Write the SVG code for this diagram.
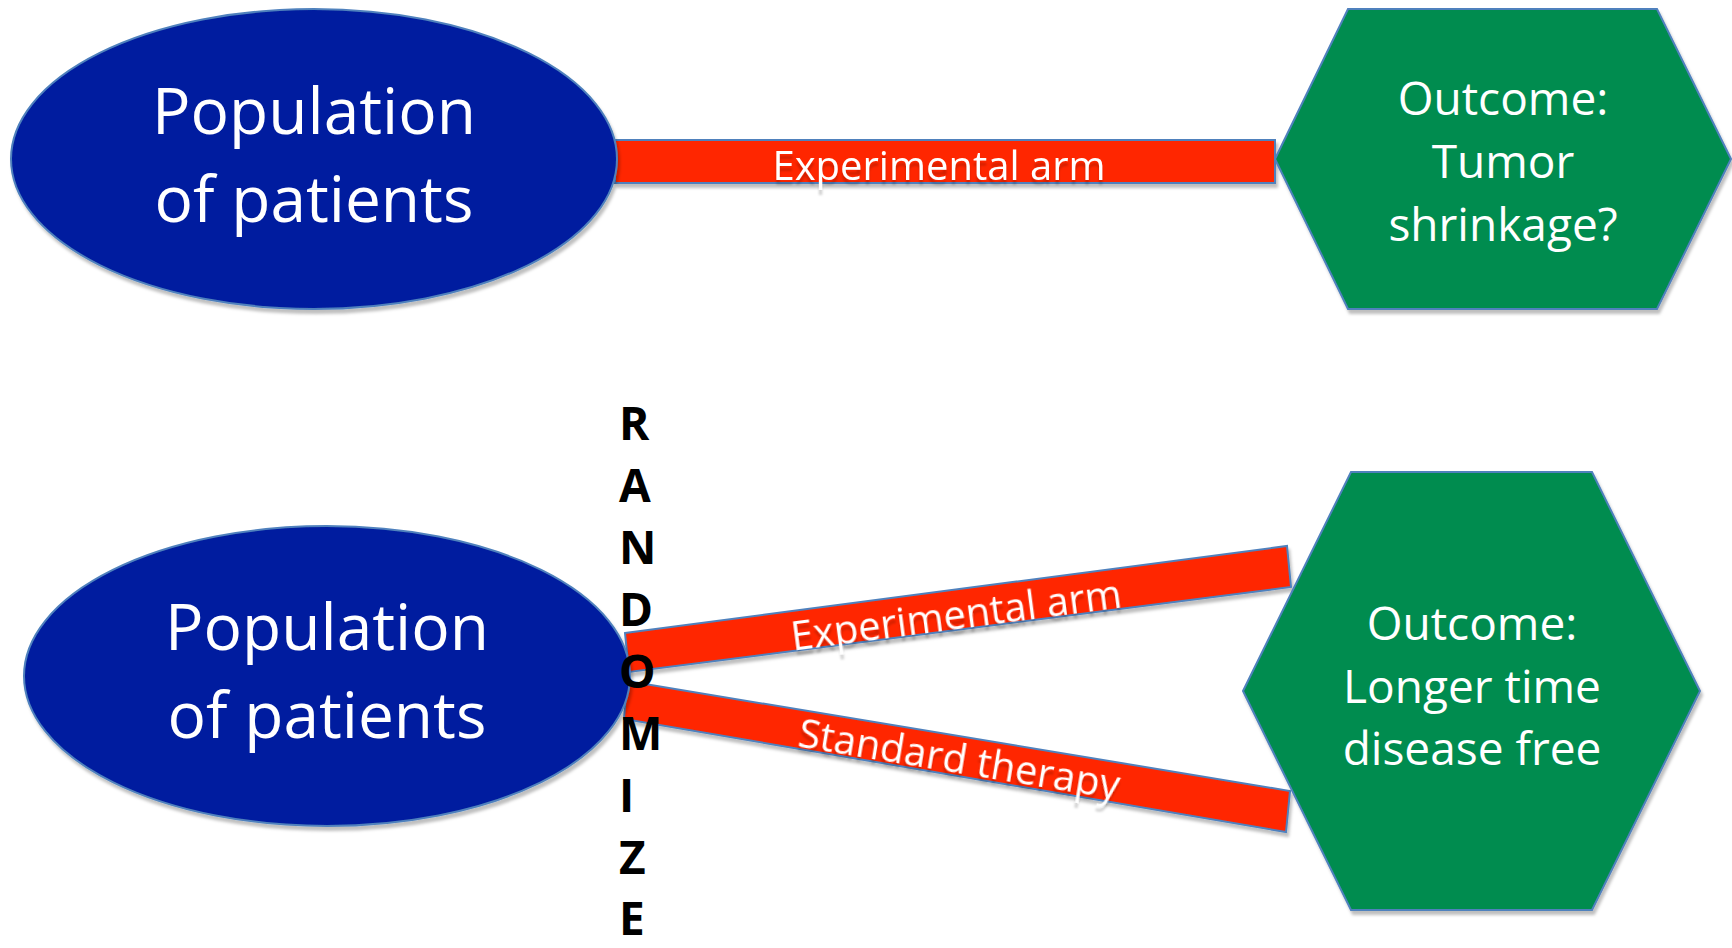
<svg xmlns="http://www.w3.org/2000/svg" width="1732" height="948" viewBox="0 0 1732 948">
<defs>
<filter id="sh" x="-10%" y="-10%" width="130%" height="140%">
<feDropShadow dx="2" dy="4" stdDeviation="1.5" flood-color="#000" flood-opacity="0.25"/>
</filter>
<filter id="tsh" x="-10%" y="-20%" width="130%" height="160%">
<feDropShadow dx="0" dy="5" stdDeviation="1" flood-color="#000" flood-opacity="0.18"/>
</filter>
<style>
.ell{fill:#001E9F;stroke:#4F81BD;stroke-width:2;filter:url(#sh)}
.hex{fill:#008C4F;stroke:#4F81BD;stroke-width:2;filter:url(#sh)}
.bar{fill:#FF2600;stroke:#4F81BD;stroke-width:2;filter:url(#sh)}
.big{font-family:"Open Sans","Liberation Sans",sans-serif;font-size:64px;fill:#fff;text-anchor:middle}
.out{font-family:"Open Sans","Liberation Sans",sans-serif;font-size:46px;fill:#fff;text-anchor:middle}
.lbl{font-family:"Open Sans","Liberation Sans",sans-serif;font-size:40px;fill:#fff;text-anchor:middle;filter:url(#tsh)}
.rnd{font-family:"Open Sans","Liberation Sans",sans-serif;font-size:46px;font-weight:700;fill:#000}
</style>
</defs>
<g id="connectors">
<rect class="bar" x="615" y="140" width="660" height="43"/>
<text class="lbl" x="939" y="180">Experimental arm</text>
<polygon class="bar" points="625,633 1287,546 1291,587 629,672"/>
<text class="lbl" transform="translate(958,629) rotate(-7.5)" x="0" y="0">Experimental arm</text>
<polygon class="bar" points="627,681 1290,791 1286,832 624,719"/>
<text class="lbl" transform="translate(957,773) rotate(9.4)" x="0" y="0">Standard therapy</text>
</g>
<g id="pop1">
<ellipse class="ell" cx="314" cy="159" rx="303" ry="150"/>
<text class="big" x="314" y="134">Population</text>
<text class="big" x="314" y="222">of patients</text>
</g>
<g id="out1">
<polygon class="hex" points="1275,159 1348,9 1657,9 1731,159 1657,309 1348,309"/>
<text class="out" x="1503" y="115">Outcome:</text>
<text class="out" x="1503" y="178">Tumor</text>
<text class="out" x="1503" y="241">shrinkage?</text>
</g>
<g id="pop2">
<ellipse class="ell" cx="327" cy="676" rx="303" ry="150"/>
<text class="big" x="327" y="650">Population</text>
<text class="big" x="327" y="738">of patients</text>
</g>
<g id="out2">
<polygon class="hex" points="1243,691 1351,472 1592,472 1700,691 1592,910 1351,910"/>
<text class="out" x="1472" y="640">Outcome:</text>
<text class="out" x="1472" y="703">Longer time</text>
<text class="out" x="1472" y="765">disease free</text>
</g>
<g id="randomize">
<text class="rnd" x="619" y="440">R</text>
<text class="rnd" x="619" y="502">A</text>
<text class="rnd" x="619" y="564">N</text>
<text class="rnd" x="619" y="626">D</text>
<text class="rnd" x="619" y="688">O</text>
<text class="rnd" x="619" y="750">M</text>
<text class="rnd" x="619" y="812">I</text>
<text class="rnd" x="619" y="874">Z</text>
<text class="rnd" x="619" y="935">E</text>
</g>
</svg>
